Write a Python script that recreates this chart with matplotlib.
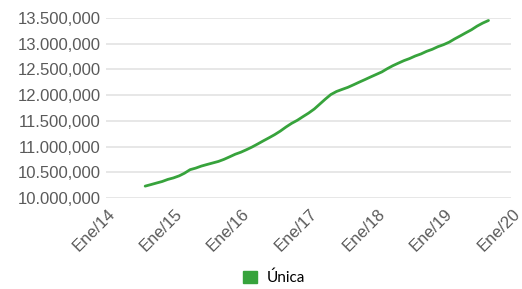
import matplotlib
matplotlib.use('Agg')
from matplotlib import pyplot as plt
from matplotlib.patches import Patch
import matplotlib.ticker as tick
import matplotlib.transforms as mtrans
import pandas as pd

# monthly values, Aug 2014 .. Sep 2019 (millions)
start_month = '2014-08-01'
values_m = [
    10.23, 10.26, 10.29, 10.32, 10.36,
    10.39, 10.43, 10.48, 10.55, 10.58, 10.62, 10.65, 10.68, 10.71, 10.75, 10.80, 10.85,
    10.89, 10.94, 10.99, 11.05, 11.11, 11.17, 11.23, 11.30, 11.38, 11.45, 11.51, 11.58,
    11.65, 11.73, 11.82, 11.92, 12.01, 12.07, 12.11, 12.15, 12.20, 12.25, 12.30, 12.35,
    12.40, 12.45, 12.51, 12.57, 12.62, 12.67, 12.71, 12.76, 12.80, 12.85, 12.89, 12.94,
    12.98, 13.03, 13.09, 13.15, 13.21, 13.27, 13.34, 13.40, 13.45,
]
series_name = 'Única'
tick_years = [2014, 2015, 2016, 2017, 2018, 2019, 2020]
tick_labels = ['Ene/14', 'Ene/15', 'Ene/16', 'Ene/17', 'Ene/18', 'Ene/19', 'Ene/20']
y_ticks = [10000000, 10500000, 11000000, 11500000, 12000000, 12500000, 13000000, 13500000]

dates = pd.date_range(start_month, periods=len(values_m), freq='MS')
values = [v * 1e6 for v in values_m]

green = '#37a33c'
grey_text = '#5a5a5a'

fig = plt.figure(figsize=(5.22, 2.89), dpi=100)
ax = fig.add_axes([0.203, 0.315, 0.776, 0.623])

ax.plot(dates, values, color=green, lw=2.0, solid_capstyle='round')

ax.set_xlim(pd.Timestamp('2014-01-01'), pd.Timestamp('2020-01-01'))
ax.set_ylim(10000000, 13500000)

ax.set_yticks(y_ticks)
def fmt(v, pos):
    s = f'{int(v):,}'
    parts = s.split(',')
    # first separator shown as '.', rest as ','
    return parts[0] + '.' + ','.join(parts[1:])
ax.yaxis.set_major_formatter(tick.FuncFormatter(fmt))
for lab in ax.get_yticklabels():
    lab.set_fontfamily('Liberation Sans')
    lab.set_fontsize(12)
    lab.set_color(grey_text)

# x labels drawn by hand so they can sit a little right of the tick
tick_dates = [pd.Timestamp(f'{y}-01-01') for y in tick_years]
ax.set_xticks(tick_dates)
ax.set_xticklabels([])
shift = mtrans.ScaledTranslation(1/100, -8/100, fig.dpi_scale_trans)
for d, lbl in zip(tick_dates, tick_labels):
    ax.text(d, 0, lbl, transform=ax.get_xaxis_transform() + shift,
            rotation=45, ha='right', va='top', rotation_mode='anchor',
            family='Liberation Sans', fontsize=12, color=grey_text, clip_on=False)

ax.tick_params(axis='both', length=0)
ax.tick_params(axis='y', pad=4)

for s in ax.spines.values():
    s.set_visible(False)
ax.grid(True, axis='y', color='#e3e3e3', lw=1.2)
ax.set_axisbelow(True)

handle = Patch(facecolor=green, edgecolor=green)
fig.legend([handle], [series_name], loc='lower center', bbox_to_anchor=(0.525, -0.035),
           frameon=False, handlelength=0.9, handleheight=0.9, handletextpad=0.6,
           prop={'family': 'Lato', 'size': 11})

fig.savefig('out.png', dpi=100)
